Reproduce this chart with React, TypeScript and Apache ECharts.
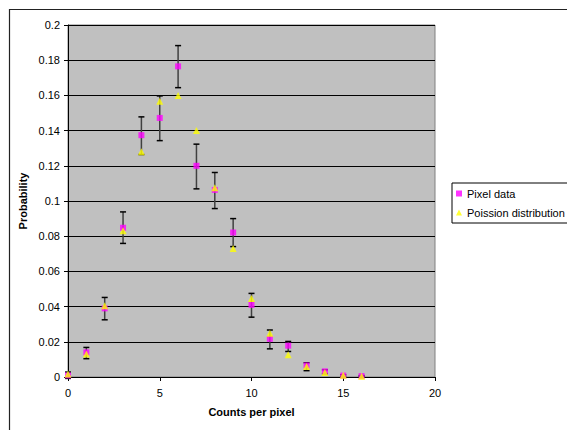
import React, { useEffect, useRef } from "react";
import * as echarts from "echarts";

const counts = [0, 1, 2, 3, 4, 5, 6, 7, 8, 9, 10, 11, 12, 13, 14, 15, 16];
const pixelData = [0.0009, 0.014, 0.039, 0.0848, 0.1374, 0.1472, 0.1765, 0.12, 0.1063, 0.0821, 0.041, 0.0217, 0.0178, 0.0066, 0.0032, 0.0008, 0.0005];
const poissonData = [0.0017, 0.013, 0.0405, 0.0831, 0.128, 0.1567, 0.16, 0.14, 0.1075, 0.073, 0.0446, 0.0248, 0.0127, 0.006, 0.0026, 0.001, 0.0004];
const errLow = [-0.0008, 0.0104, 0.0325, 0.0759, 0.1264, 0.1343, 0.1644, 0.1069, 0.0957, 0.0741, 0.034, 0.016, 0.0145, 0.0036, 0.0019, 0.0003, 0.0002];
const errHigh = [0.0028, 0.0168, 0.0452, 0.0938, 0.1478, 0.1597, 0.1883, 0.1323, 0.1162, 0.09, 0.0475, 0.0267, 0.0202, 0.0081, 0.0041, 0.0013, 0.0008];
const yTicks = { min: 0, max: 0.2, interval: 0.02 };
const xTicks = { min: 0, max: 20, interval: 5 };

const FONT = "'Liberation Sans', Arial, sans-serif";

export default function App() {
  const ref = useRef<HTMLDivElement>(null);
  useEffect(() => {
    document.body.style.margin = "0";
    const chart = echarts.init(ref.current!, null, { renderer: "svg" });
    chart.setOption({
      animation: false,
      backgroundColor: "#ffffff",
      textStyle: { fontFamily: FONT },
      graphic: [
        {
          type: "rect",
          left: 7,
          top: 7,
          shape: { x: 0.5, y: 0.5, width: 620, height: 500 },
          style: { fill: "none", stroke: "#222", lineWidth: 1.2 },
          silent: true,
        },
      ],
      grid: {
        left: 68,
        right: 132,
        top: 25,
        bottom: 53,
        show: true,
        backgroundColor: "#C0C0C0",
        borderColor: "#808080",
        borderWidth: 1,
      },
      legend: {
        orient: "vertical",
        left: 452,
        top: 183,
        padding: [5, 6, 5, 4],
        itemWidth: 6,
        itemHeight: 6,
        itemGap: 8,
        borderColor: "#000",
        borderWidth: 1,
        backgroundColor: "#fff",
        textStyle: { fontFamily: FONT, fontSize: 11, color: "#000" },
        data: [
          { name: "Pixel data", icon: "rect" },
          { name: "Poission distribution", icon: "triangle" },
        ],
      },
      xAxis: {
        type: "value",
        min: xTicks.min,
        max: xTicks.max,
        interval: xTicks.interval,
        name: "Counts per pixel",
        nameLocation: "middle",
        nameGap: 29,
        nameTextStyle: { fontFamily: FONT, fontSize: 11, fontWeight: "bold", color: "#000" },
        axisLine: { show: true, onZero: false, lineStyle: { color: "#000", width: 1 } },
        axisTick: { show: true, inside: false, length: 4, lineStyle: { color: "#000" } },
        axisLabel: { fontFamily: FONT, fontSize: 11, color: "#000", margin: 10 },
        splitLine: { show: false },
      },
      yAxis: {
        type: "value",
        min: yTicks.min,
        max: yTicks.max,
        interval: yTicks.interval,
        name: "Probability",
        nameLocation: "middle",
        nameRotate: 90,
        nameGap: 40,
        nameMoveOverlap: false,
        nameTextStyle: { fontFamily: FONT, fontSize: 11, fontWeight: "bold", color: "#000" },
        axisLine: { show: true, onZero: false, lineStyle: { color: "#000", width: 1 } },
        axisTick: { show: true, inside: false, length: 4, lineStyle: { color: "#000" } },
        axisLabel: { fontFamily: FONT, fontSize: 11, color: "#000", margin: 8 },
        splitLine: { show: true, lineStyle: { color: "#000", width: 1 } },
      },
      series: [
        {
          type: "custom",
          name: "errors",
          clip: false,
          silent: true,
          encode: { x: 0, y: [1, 2] },
          data: counts.map((c, i) => [c, errLow[i], errHigh[i]]),
          renderItem: (params: any, api: any) => {
            const x = api.value(0);
            const lo = api.coord([x, api.value(1)]);
            const hi = api.coord([x, api.value(2)]);
            const hw = 3;
            return {
              type: "group",
              children: [
                {
                  type: "line",
                  shape: { x1: lo[0], y1: lo[1], x2: hi[0], y2: hi[1] },
                  style: { stroke: "#404040", lineWidth: 1.5 },
                },
                {
                  type: "line",
                  shape: { x1: lo[0] - hw, y1: lo[1], x2: lo[0] + hw, y2: lo[1] },
                  style: { stroke: "#000", lineWidth: 1.5 },
                },
                {
                  type: "line",
                  shape: { x1: hi[0] - hw, y1: hi[1], x2: hi[0] + hw, y2: hi[1] },
                  style: { stroke: "#000", lineWidth: 1.5 },
                },
              ],
            };
          },
        },
        {
          type: "scatter",
          name: "Pixel data",
          symbol: "rect",
          symbolSize: 6,
          itemStyle: { color: "#FF00FF" },
          data: counts.map((c, i) => [c, pixelData[i]]),
        },
        {
          type: "scatter",
          name: "Poission distribution",
          symbol: "triangle",
          symbolSize: [7, 7],
          itemStyle: { color: "#FFFF00" },
          data: counts.map((c, i) => [c, poissonData[i]]),
        },
      ],
    });
    return () => chart.dispose();
  }, []);
  return <div ref={ref} style={{ width: 567, height: 430 }} />;
}
